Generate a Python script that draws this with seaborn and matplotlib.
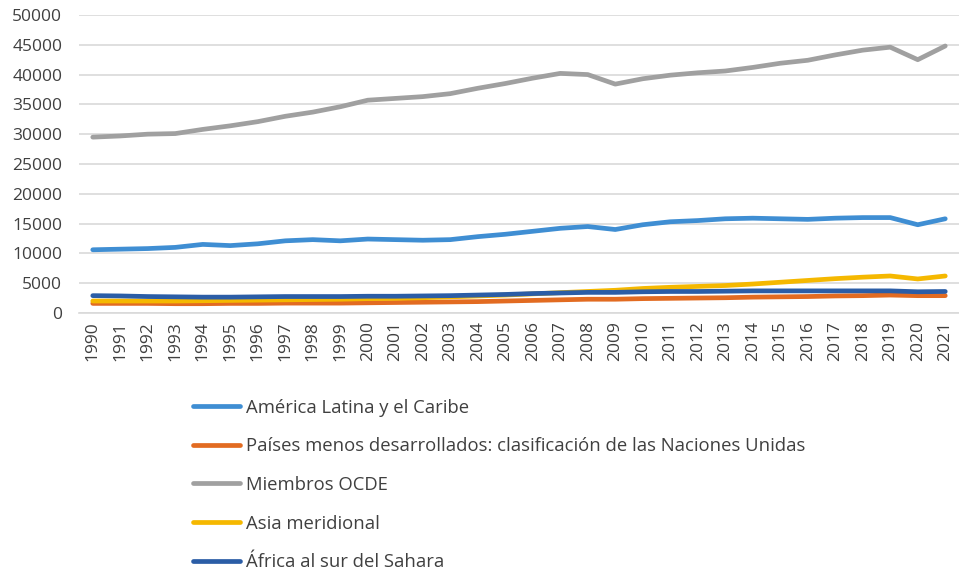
import numpy as np
import pandas as pd
import matplotlib.pyplot as plt
import seaborn as sns

years = list(range(1990, 2022))

america_latina = [10600, 10700, 10800, 11000, 11500, 11300, 11600, 12100, 12300, 12100,
                  12400, 12300, 12200, 12300, 12800, 13200, 13700, 14200, 14500, 14000,
                  14800, 15300, 15500, 15800, 15900, 15800, 15700, 15900, 16000, 16000,
                  14800, 15800]
menos_desarrollados = [1600, 1600, 1600, 1550, 1550, 1600, 1600, 1650, 1650, 1650,
                       1700, 1750, 1800, 1850, 1900, 2000, 2100, 2200, 2300, 2300,
                       2400, 2450, 2500, 2550, 2650, 2700, 2750, 2850, 2900, 3000,
                       2900, 2900]
ocde = [29500, 29700, 30000, 30100, 30800, 31400, 32100, 33000, 33700, 34600,
        35700, 36000, 36300, 36800, 37700, 38500, 39400, 40200, 40000, 38400,
        39300, 39900, 40300, 40600, 41200, 41900, 42400, 43300, 44100, 44600,
        42500, 44800]
asia_meridional = [2000, 2000, 2000, 2000, 2050, 2100, 2150, 2200, 2250, 2300,
                   2400, 2450, 2550, 2700, 2850, 3000, 3200, 3400, 3600, 3800,
                   4100, 4300, 4450, 4600, 4850, 5150, 5450, 5750, 6000, 6200,
                   5700, 6200]
africa_sur_sahara = [2900, 2850, 2750, 2700, 2650, 2650, 2700, 2750, 2750, 2750,
                     2800, 2800, 2850, 2900, 3000, 3100, 3250, 3350, 3450, 3450,
                     3550, 3600, 3600, 3650, 3700, 3700, 3700, 3700, 3700, 3700,
                     3550, 3600]

series_names = ['América Latina y el Caribe',
                'Países menos desarrollados: clasificación de las Naciones Unidas',
                'Miembros OCDE',
                'Asia meridional',
                'África al sur del Sahara']
colors = ['#3F8ED3', '#E26B21', '#A0A0A0', '#F5B800', '#2B5DA6']

df = pd.DataFrame({
    'year': [str(y) for y in years] * 5,
    'value': america_latina + menos_desarrollados + ocde + asia_meridional + africa_sur_sahara,
    'series': np.repeat(series_names, len(years)),
})

sns.set_style('white')
plt.rcParams['font.family'] = ['Open Sans', 'DejaVu Sans']

fig = plt.figure(figsize=(9.59, 5.7), dpi=100)
ax = fig.add_axes([0.0824, 0.451, 0.9176, 0.5227])

sns.lineplot(data=df, x='year', y='value', hue='series', hue_order=series_names,
             palette=colors, linewidth=3.4, ax=ax, legend=True, sort=False)

ax.set_xlim(-0.5, len(years) - 0.5)
ax.set_ylim(0, 50000)
ax.set_yticks(range(0, 50001, 5000))
ax.yaxis.grid(True, color='#D9D9D9', linewidth=1.2)
ax.set_axisbelow(True)
for side in ['top', 'right', 'left']:
    ax.spines[side].set_visible(False)
ax.spines['bottom'].set_color('#D9D9D9')
ax.spines['bottom'].set_linewidth(1.2)
ax.tick_params(axis='x', rotation=90, labelsize=12.5, colors='#404040', length=0, pad=6)
ax.tick_params(axis='y', labelsize=12.5, colors='#404040', length=0, pad=12)
ax.set_xlabel('')
ax.set_ylabel('')

handles, labels = ax.get_legend_handles_labels()
ax.legend_.remove()
leg = fig.legend(handles, labels, loc='upper left', bbox_to_anchor=(0.184, 0.33),
                 frameon=False, fontsize=13.3, handlelength=2.55, handletextpad=0.3,
                 labelspacing=1.12)
for t in leg.get_texts():
    t.set_color('#404040')
for line in leg.get_lines():
    line.set_linewidth(3.4)

fig.savefig('out.png', dpi=100)
